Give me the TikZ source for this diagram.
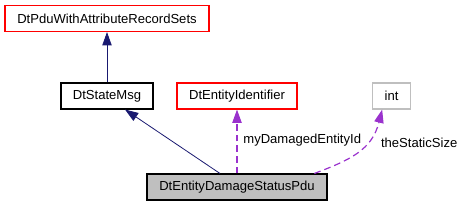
\documentclass[tikz,border=0pt]{standalone}
\usepackage{fontspec}
\setmainfont{Liberation Sans}
\usetikzlibrary{positioning, shapes, arrows.meta}
\definecolor{edgeblue}{HTML}{191970}
\definecolor{usepurple}{HTML}{9A32CD}
\definecolor{boxgray}{HTML}{BFBFBF}

\begin{document}
\begin{tikzpicture}[x=0.75pt, y=-0.75pt,
  cls/.style={thick, minimum height=19.5pt, inner xsep=2pt, font=\fontsize{9.8}{12}\selectfont},
  inherit/.style={color=edgeblue, semithick, -{Triangle[length=10pt, width=7pt]}},
  uses/.style={color=usepurple, line width=0.9pt, dash pattern=on 5pt off 3pt, -{Triangle[length=10pt, width=7pt]}},
  lbl/.style={text=black, font=\fontsize{9.8}{12}\selectfont}]
\useasboundingbox (0,0) rectangle (465,205);
\node[cls, draw=red, minimum width=153pt] (base) at (107,18.5) {DtPduWithAttributeRecordSets};
\node[cls, draw=black, minimum width=69pt] (msg) at (107,96) {DtStateMsg};
\node[cls, draw=red, minimum width=90pt] (ident) at (237,96) {DtEntityIdentifier};
\node[cls, draw=boxgray, minimum width=29pt] (int) at (391.5,96) {int};
\node[cls, draw=black, fill=boxgray, minimum width=135pt] (pdu) at (237,187) {DtEntityDamageStatusPdu};
\draw[inherit] (msg) -- (base);
\draw[inherit] ([xshift=-12.75pt]pdu.north) -- ([xshift=13.5pt]msg.south);
\draw[uses] (pdu.north) -- node[lbl, right, xshift=1pt, yshift=1pt] (a) {myDamagedEntityId} (ident.south);
\draw[uses] ([xshift=58pt]pdu.north) .. controls (350,160) and (372,150) .. ([xshift=-7pt]int.south) node[lbl, pos=0.62, right=8pt, yshift=1pt] (b) {theStaticSize};
\end{tikzpicture}
\end{document}
